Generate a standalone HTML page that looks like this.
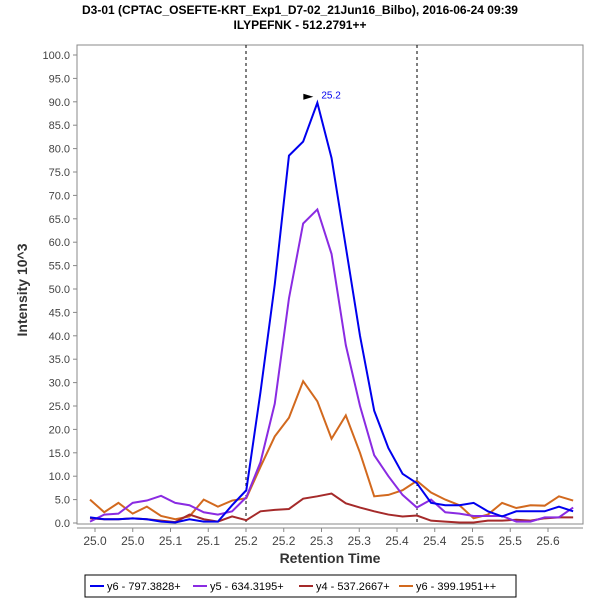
<!DOCTYPE html>
<html><head><meta charset="utf-8"><style>
body{margin:0;background:#fff;font-family:"Liberation Sans",sans-serif}
svg text{font-family:"Liberation Sans",sans-serif}
</style></head><body>
<svg id="c" width="600" height="600" xmlns="http://www.w3.org/2000/svg">
<text x="300" y="14" text-anchor="middle" font-size="12" font-weight="bold">D3-01 (CPTAC_OSEFTE-KRT_Exp1_D7-02_21Jun16_Bilbo), 2016-06-24 09:39</text>
<text x="300" y="29" text-anchor="middle" font-size="12" font-weight="bold">ILYPEFNK - 512.2791++</text>
<text transform="translate(27,290) rotate(-90)" text-anchor="middle" font-size="14" font-weight="bold" fill="#333">Intensity 10^3</text>
<text x="330" y="563" text-anchor="middle" font-size="14" font-weight="bold" fill="#333">Retention Time</text>
<rect x="77" y="45" width="506" height="479" fill="#fff" stroke="#888"/>
<g id="axes"></g>
<g id="marks"></g>
<g>
<rect x="85" y="575" width="431" height="22" fill="#fff" stroke="#000"/>
<g id="leg"></g>
</g>
</svg>
<script>
const times=[24.9734,24.9922,25.0110,25.0299,25.0487,25.0675,25.0863,25.1051,25.1240,25.1428,25.1616,25.1804,25.1992,25.2181,25.2369,25.2557,25.2745,25.2933,25.3122,25.3310,25.3498,25.3686,25.3874,25.4063,25.4251,25.4439,25.4627,25.4815,25.5004,25.5192,25.5380,25.5568,25.5756,25.5945,25.6133];
const y6=[1.2,0.8,0.8,1.0,0.8,0.3,0.1,0.8,0.3,0.3,3.8,7.0,28,51,78.5,81.5,89.8,78,59,40,24,16,10.5,8.5,4.3,3.8,3.8,4.3,2.5,1.4,2.5,2.5,2.5,3.5,2.5];
const y5=[0.3,1.8,2.0,4.3,4.8,5.8,4.3,3.8,2.3,1.8,2.5,5.5,13,25.5,48,64,67,57.5,38,25,14.5,10,6,3.3,5,2.3,2,1.5,1.5,1.5,0.3,0.3,1.2,1.2,3.3];
const y4=[1.0,0.8,0.8,1.0,0.8,0.5,0.2,1.8,0.8,0.3,1.4,0.6,2.5,2.8,3.0,5.2,5.7,6.3,4.2,3.3,2.5,1.8,1.4,1.6,0.5,0.3,0.1,0.1,0.5,0.5,0.7,0.5,1.0,1.2,1.2];
const y6pp=[5.0,2.3,4.3,2.0,3.5,1.5,0.8,1.4,5.0,3.5,4.8,5.3,12,18.5,22.5,30.3,26,18,23,15,5.7,6,7,9,6.5,5,3.8,1,1.8,4.3,3.2,3.8,3.7,5.7,4.8];
const seriesNames=["y6 - 797.3828+","y5 - 634.3195+","y4 - 537.2667+","y6 - 399.1951++"];
const colors=["#0000ee","#8a2be2","#a52a2a","#d2691e"];
const xTicks=[24.98,25.03,25.08,25.13,25.18,25.23,25.28,25.33,25.38,25.43,25.48,25.53,25.58];
const yTicks=[0,5,10,15,20,25,30,35,40,45,50,55,60,65,70,75,80,85,90,95,100];
const markers=[25.18,25.4065];
const peakLabel="25.2";
const NS="http://www.w3.org/2000/svg";
const X=t=>95+(t-24.98)*755;
const Y=v=>523-v*4.68;
function mk(tag,attrs,parent,text){const e=document.createElementNS(NS,tag);for(const k in attrs)e.setAttribute(k,attrs[k]);if(text!==undefined)e.textContent=text;parent.appendChild(e);return e;}
const axes=document.getElementById('axes'),marks=document.getElementById('marks'),leg=document.getElementById('leg');
mk('line',{x1:77,y1:528,x2:583,y2:528,stroke:'#888'},axes);
yTicks.forEach(v=>{
 mk('line',{x1:73,y1:Y(v),x2:77,y2:Y(v),stroke:'#888'},axes);
 const t=mk('text',{x:70,y:Y(v)+4,'text-anchor':'end','font-size':11,fill:'#444'},axes,v.toFixed(1));
 
 
});
xTicks.forEach(v=>{
 mk('line',{x1:X(v),y1:528,x2:X(v),y2:532,stroke:'#888'},axes);
 const t=mk('text',{x:X(v),y:545,'text-anchor':'middle','font-size':12,fill:'#444'},axes,v.toFixed(1));
 
 
});
markers.forEach(m=>{
 const l=mk('line',{x1:X(m),y1:45,x2:X(m),y2:524,stroke:'#000','stroke-dasharray':'3,3'},marks);
 
 
});
const data=[y6,y5,y4,y6pp];
[3,2,1,0].forEach(i=>{
 const p=mk('polyline',{points:data[i].map((v,j)=>X(times[j])+','+Y(v)).join(' '),fill:'none',stroke:colors[i],'stroke-width':2},marks);
 
 
});
let pk=0;y6.forEach((v,j)=>{if(v>y6[pk])pk=j;});
const px=X(times[pk]),py=Y(y6[pk]);
mk('polygon',{points:`${px-14},${py-9} ${px-4},${py-6} ${px-14},${py-3}`,fill:'#000'},marks);
const pl=mk('text',{x:px+4,y:py-4,'font-size':10,fill:'#0000ee'},marks,peakLabel);


const lx=[90,193,299,399];
seriesNames.forEach((n,i)=>{
 const g=mk('g',{},leg);
 
 
 mk('line',{x1:lx[i],y1:586,x2:lx[i]+14,y2:586,stroke:colors[i],'stroke-width':2},g);
 mk('text',{x:lx[i]+17,y:590,'font-size':11},g,n);
});
</script>
</body></html>
